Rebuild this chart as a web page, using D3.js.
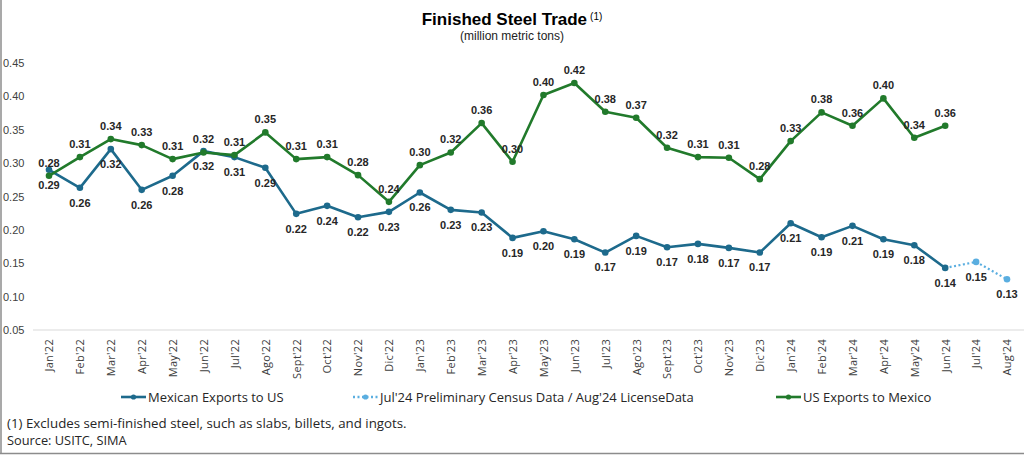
<!DOCTYPE html>
<html lang="en">
<head>
<meta charset="utf-8">
<script src="https://d3js.org/d3.v7.min.js"></script>
<style>
  body { margin: 0; background: #fff; }
  svg { display: block; }
</style>
</head>
<body>
<div id="chart"></div>
<script>
"use strict";

// months on the x axis
var meses = ["Jan'22","Feb'22","Mar'22","Apr'22","May'22","Jun'22","Jul'22","Ago'22","Sept'22","Oct'22","Nov'22","Dic'22",
             "Jan'23","Feb'23","Mar'23","Apr'23","May'23","Jun'23","Jul'23","Ago'23","Sept'23","Oct'23","Nov'23","Dic'23",
             "Jan'24","Feb'24","Mar'24","Apr'24","May'24","Jun'24","Jul'24","Aug'24"];

// Mexican Exports to US, Jan'22 .. Jun'24
var mexicoExp = [0.290,0.263,0.321,0.260,0.281,0.318,0.309,0.293,0.224,0.236,0.219,0.227,
                 0.256,0.230,0.226,0.188,0.198,0.186,0.166,0.191,0.174,0.179,0.173,0.166,
                 0.210,0.189,0.206,0.186,0.177,0.143];

// preliminary points (Jul'24 census / Aug'24 license)
var prelimMeses = ["Jul'24","Aug'24"];
var prelimExp = [0.152,0.126];

// US Exports to Mexico, Jan'22 .. Jun'24
var usExp = [0.281,0.309,0.336,0.327,0.306,0.316,0.312,0.346,0.306,0.309,0.282,0.242,
             0.297,0.316,0.360,0.302,0.402,0.420,0.377,0.368,0.323,0.309,0.308,0.276,
             0.333,0.376,0.356,0.397,0.338,0.356];

var yTicks = [0.05,0.10,0.15,0.20,0.25,0.30,0.35,0.40,0.45];

var largura = 1024, altura = 455;
var corMex = "#1d6a8c", corPrelim = "#5aaee0", corUS = "#217a2b";

var svg = d3.select("#chart").append("svg")
  .attr("width", largura).attr("height", altura);

var x = d3.scalePoint().domain(meses).range([49, 1007]);
var y = d3.scaleLinear().domain([0.05, 0.45]).range([330, 63]);
var fmt = d3.format(".2f");

// moldura (left + bottom)
svg.append("line").attr("x1", 1).attr("x2", 1).attr("y1", 0).attr("y2", 453.5)
  .style("stroke", "#8c8c8c").style("stroke-width", 1.5);
svg.append("line").attr("x1", 0).attr("x2", largura).attr("y1", 453.5).attr("y2", 453.5)
  .style("stroke", "#8c8c8c").style("stroke-width", 1.5);

// titulo
var tit = svg.append("text").attr("x", 512).attr("y", 25)
  .attr("text-anchor", "middle")
  .style("font-family", "Liberation Sans, Arial, sans-serif");
tit.append("tspan").text("Finished Steel Trade").style("font-size", "17px").style("font-weight", "bold");
tit.append("tspan").text("(1)").attr("dx", 3).attr("dy", -5).style("font-size", "10px");

svg.append("text").attr("x", 512).attr("y", 40)
  .attr("text-anchor", "middle")
  .style("font-family", "Liberation Sans, Arial, sans-serif")
  .style("font-size", "12px").style("fill", "#222")
  .text("(million metric tons)");

// eixo y
var eixoY = svg.append("g")
  .attr("transform", "translate(3,0)")
  .call(d3.axisLeft(y).tickValues(yTicks).tickFormat(fmt).tickSize(0).tickPadding(0));
eixoY.select(".domain").remove();
eixoY.selectAll("text")
  .attr("text-anchor", "start")
  .style("font-family", "Liberation Sans, Arial, sans-serif")
  .style("font-size", "11px").style("fill", "#404040");

// linha base
svg.append("line")
  .attr("x1", 33).attr("x2", largura)
  .attr("y1", y(0.05)).attr("y2", y(0.05))
  .style("stroke", "#d9d9d9").style("stroke-width", 1);

// eixo x (rotulos girados)
var eixoX = svg.append("g")
  .attr("transform", "translate(0,339)")
  .call(d3.axisBottom(x).tickSize(0).tickPadding(0));
eixoX.select(".domain").remove();
eixoX.selectAll("text")
  .attr("transform", "rotate(-90)")
  .attr("x", 0).attr("y", 0).attr("dy", "0.35em")
  .attr("text-anchor", "end")
  .style("font-family", "Open Sans, sans-serif")
  .style("letter-spacing", "0.3px")
  .style("font-size", "11px").style("fill", "#404040");

var linha = d3.line()
  .x(function(d) { return x(d.m); })
  .y(function(d) { return y(d.v); });

var dadosMex = mexicoExp.map(function(v, i) { return {m: meses[i], v: v}; });
var dadosUS = usExp.map(function(v, i) { return {m: meses[i], v: v}; });
var dadosPre = [dadosMex[dadosMex.length - 1]].concat(prelimExp.map(function(v, i) { return {m: prelimMeses[i], v: v}; }));

// preliminar (pontilhado)
svg.append("path").datum(dadosPre)
  .attr("d", linha)
  .style("fill", "none").style("stroke", corPrelim)
  .style("stroke-width", 2.2).style("stroke-dasharray", "2,2.5");
svg.selectAll(".ptPre").data(dadosPre.slice(1)).enter().append("circle")
  .attr("cx", function(d) { return x(d.m); })
  .attr("cy", function(d) { return y(d.v); })
  .attr("r", 3.3).style("fill", corPrelim);

// series principais
[[dadosMex, corMex], [dadosUS, corUS]].forEach(function(s) {
  var dados = s[0], cor = s[1];
  svg.append("path").datum(dados)
    .attr("d", linha)
    .style("fill", "none").style("stroke", cor).style("stroke-width", 2.6)
    .style("stroke-linejoin", "round");
  svg.selectAll(null).data(dados).enter().append("circle")
    .attr("cx", function(d) { return x(d.m); })
    .attr("cy", function(d) { return y(d.v); })
    .attr("r", 3.3).style("fill", cor);
});

// rotulos de dados
function rotulos(dados, desloc) {
  svg.selectAll(null).data(dados).enter().append("text")
    .attr("x", function(d) { return x(d.m); })
    .attr("y", function(d) { return y(d.v) + desloc; })
    .attr("dy", "0.35em")
    .attr("text-anchor", "middle")
    .style("font-family", "Liberation Sans, Arial, sans-serif")
    .style("font-size", "11px").style("font-weight", "bold").style("fill", "#262626")
    .text(function(d) { return fmt(d.v); });
}
rotulos(dadosUS, -13);
rotulos(dadosMex, 15);
rotulos(dadosPre.slice(1), 15);

// legenda
var legenda = [
  {nome: "Mexican Exports to US", cor: corMex, x: 121, tracej: null},
  {nome: "Jul'24 Preliminary Census Data / Aug'24 LicenseData", cor: corPrelim, x: 353, tracej: "2,2.5"},
  {nome: "US Exports to Mexico", cor: corUS, x: 776, tracej: null}
];
var leg = svg.selectAll(".leg").data(legenda).enter().append("g")
  .attr("transform", function(d) { return "translate(" + d.x + ",397)"; });
leg.append("line").attr("x1", 0).attr("x2", 25).attr("y1", 0).attr("y2", 0)
  .style("stroke", function(d) { return d.cor; }).style("stroke-width", 2.6)
  .style("stroke-dasharray", function(d) { return d.tracej; });
leg.append("circle").attr("cx", 12.5).attr("cy", 0).attr("r", 2.6)
  .style("fill", function(d) { return d.cor; });
leg.append("text").attr("x", 27).attr("y", 0).attr("dy", "0.35em")
  .style("font-family", "Open Sans, sans-serif").style("font-size", "13px").style("fill", "#262626")
  .text(function(d) { return d.nome; });

// notas
svg.append("text").attr("x", 7).attr("y", 423).attr("dy", "0.35em")
  .style("font-family", "Open Sans, sans-serif").style("font-size", "13.3px").style("fill", "#262626")
  .text("(1) Excludes semi-finished steel, such as slabs, billets, and ingots.");
svg.append("text").attr("x", 7).attr("y", 441).attr("dy", "0.35em")
  .style("font-family", "Open Sans, sans-serif").style("font-size", "12.8px").style("fill", "#262626")
  .text("Source: USITC, SIMA");
</script>
</body>
</html>
